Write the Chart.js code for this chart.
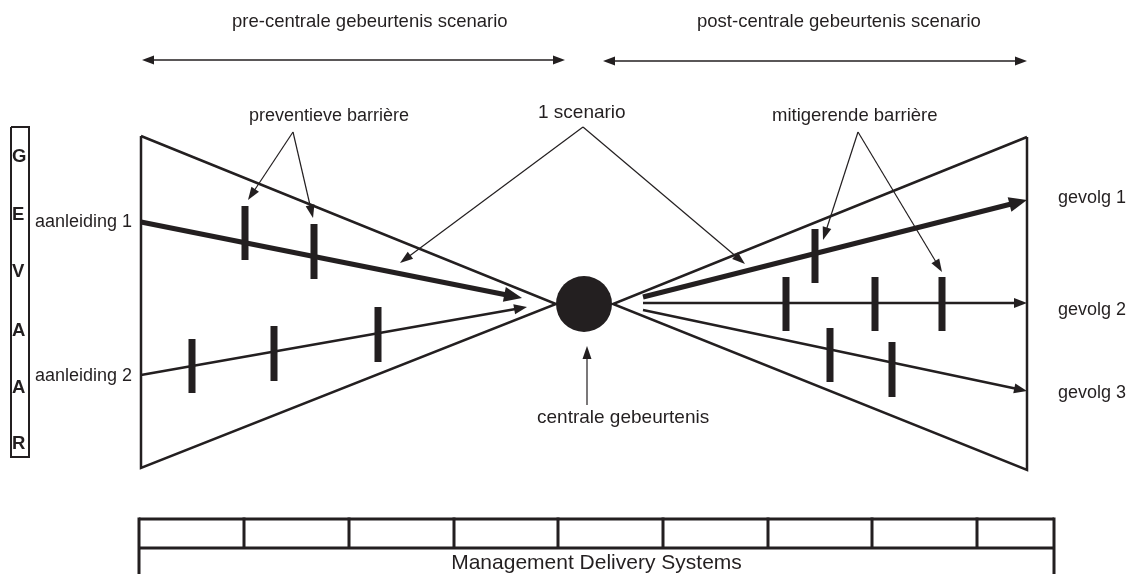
<!DOCTYPE html>
<html>
<head>
<meta charset="utf-8">
<title>Bowtie</title>
<script src="https://cdn.jsdelivr.net/npm/chart.js@4/dist/chart.umd.min.js"></script>
<style>
  html, body { margin: 0; padding: 0; background: #ffffff; }
  #vlak { width: 1130px; height: 574px; }
</style>
</head>
<body>
<div id="vlak"><canvas id="bowtie" width="1130" height="574"></canvas></div>
<script>
/* ===== BOWTIE — gevaar / centrale gebeurtenis / gevolgen ===== */

const INK  = "#231f20";
const FONT = '"Liberation Sans", Arial, Helvetica, sans-serif';

/* ===== DATA (diagram units, y runs downward) ===== */

// the two wedges
const WEDGE_LEFT_X  = [141, 556, 141, 141];
const WEDGE_LEFT_Y  = [136, 304, 468, 136];
const WEDGE_RIGHT_X = [1027, 613, 1027, 1027];
const WEDGE_RIGHT_Y = [137, 304, 470, 137];

// threats (aanleidingen)
const THREAT_LABELS = ["aanleiding 1", "aanleiding 2"];
const THREAT_FROM   = [[141, 222], [141, 375]];
const THREAT_TO     = [[522, 298], [527, 307]];
const THREAT_LABEL_Y = [222, 376];

// preventive barriers
const PREVENT_X      = [245, 314, 192, 274, 378];
const PREVENT_TOP    = [206, 224, 339, 326, 307];
const PREVENT_BOTTOM = [260, 279, 393, 381, 362];

// consequences (gevolgen)
const CONSEQ_LABELS  = ["gevolg 1", "gevolg 2", "gevolg 3"];
const CONSEQ_FROM    = [[643, 297], [643, 303], [643, 310]];
const CONSEQ_TO      = [[1027, 200], [1027, 303], [1027, 391]];
const CONSEQ_LABEL_Y = [198, 310, 393];

// mitigating barriers
const MITIGATE_X      = [815, 786, 875, 942, 830, 892];
const MITIGATE_TOP    = [229, 277, 277, 277, 328, 342];
const MITIGATE_BOTTOM = [283, 331, 331, 331, 382, 397];

// central event
const CENTRAL_LABEL = "centrale gebeurtenis";
const CENTRAL_POINT = [584, 304];
const CENTRAL_ARROW = [[587, 405], [587, 346]];

// callouts with two arrows each
const CALLOUT_LABELS = ["preventieve barrière", "1 scenario", "mitigerende barrière"];
const CALLOUT_APEX   = [[293, 132], [583, 127], [858, 132]];
const CALLOUT_TIPS   = [
  [[248, 200], [313, 218]],
  [[400, 263], [745, 264]],
  [[823, 240], [942, 272]],
];

// scenario spans on top
const SPAN_LABELS = ["pre-centrale gebeurtenis scenario", "post-centrale gebeurtenis scenario"];
const SPAN_FROM   = [[142, 60], [603, 61]];
const SPAN_TO     = [[565, 60], [1027, 61]];

// hazard column
const HAZARD_LETTERS  = ["G", "E", "V", "A", "A", "R"];
const HAZARD_LETTER_Y = [157, 215, 272, 331, 388, 444];
const HAZARD_BOX_X    = [11, 29];
const HAZARD_BOX_Y    = [127, 457];

// management delivery systems table
const MDS_LABEL     = "Management Delivery Systems";
const MDS_COLUMNS_X = [139, 244, 349, 454, 558, 663, 768, 872, 977, 1054];
const MDS_ROWS_Y    = [519, 548, 574];

/* ===== HELPERS ===== */

function punten(xs, ys) {
  return xs.map(function(x, i) { return { x: x, y: ys[i] }; });
}

function lijn(data, breedte, extra) {
  return Object.assign({
    data: data,
    showLine: true,
    borderColor: INK,
    borderWidth: breedte,
    borderCapStyle: "butt",
    borderJoinStyle: "miter",
    pointRadius: 0,
    pointHoverRadius: 0,
    fill: false,
    tension: 0,
    clip: false,
  }, extra || {});
}

function pijl(van, naar, breedte, kop, dubbel) {
  const extra = { arrowEnd: kop };
  if (dubbel) extra.arrowStart = kop;
  return lijn([{ x: van[0], y: van[1] }, { x: naar[0], y: naar[1] }], breedte, extra);
}

/* ===== DATASETS ===== */

function bouwDatasets() {
  const sets = [];

  sets.push(lijn(punten(WEDGE_LEFT_X, WEDGE_LEFT_Y), 2.5));
  sets.push(lijn(punten(WEDGE_RIGHT_X, WEDGE_RIGHT_Y), 2.5));

  // threats: first one is the thick scenario arrow
  THREAT_FROM.forEach(function(van, i) {
    const dik = i === 0;
    sets.push(pijl(van, THREAT_TO[i], dik ? 5 : 2.5, dik ? [18, 7.5] : [13, 5]));
  });
  PREVENT_X.forEach(function(x, i) {
    sets.push(lijn([{ x: x, y: PREVENT_TOP[i] }, { x: x, y: PREVENT_BOTTOM[i] }], 7));
  });

  CONSEQ_FROM.forEach(function(van, i) {
    const dik = i === 0;
    sets.push(pijl(van, CONSEQ_TO[i], dik ? 5 : 2.5, dik ? [18, 7.5] : [13, 5]));
  });
  MITIGATE_X.forEach(function(x, i) {
    sets.push(lijn([{ x: x, y: MITIGATE_TOP[i] }, { x: x, y: MITIGATE_BOTTOM[i] }], 7));
  });

  // callout arrows
  CALLOUT_APEX.forEach(function(top, i) {
    CALLOUT_TIPS[i].forEach(function(punt) {
      sets.push(pijl(top, punt, 1.2, [13, 4.5]));
    });
  });
  sets.push(pijl(CENTRAL_ARROW[0], CENTRAL_ARROW[1], 1.2, [13, 4.5]));

  SPAN_FROM.forEach(function(van, i) {
    sets.push(pijl(van, SPAN_TO[i], 1.4, [12, 4.5], true));
  });

  // hazard box
  sets.push(lijn(punten(
    [HAZARD_BOX_X[0], HAZARD_BOX_X[1], HAZARD_BOX_X[1], HAZARD_BOX_X[0], HAZARD_BOX_X[0]],
    [HAZARD_BOX_Y[0], HAZARD_BOX_Y[0], HAZARD_BOX_Y[1], HAZARD_BOX_Y[1], HAZARD_BOX_Y[0]]), 2));

  // table
  const links  = MDS_COLUMNS_X[0];
  const rechts = MDS_COLUMNS_X[MDS_COLUMNS_X.length - 1];
  sets.push(lijn([{ x: links, y: MDS_ROWS_Y[0] }, { x: rechts, y: MDS_ROWS_Y[0] }], 3));
  sets.push(lijn([{ x: links, y: MDS_ROWS_Y[1] }, { x: rechts, y: MDS_ROWS_Y[1] }], 3));
  MDS_COLUMNS_X.forEach(function(x, i) {
    const buiten = i === 0 || i === MDS_COLUMNS_X.length - 1;
    const onder  = buiten ? MDS_ROWS_Y[2] : MDS_ROWS_Y[1];
    sets.push(lijn([{ x: x, y: MDS_ROWS_Y[0] - 1.5 }, { x: x, y: onder }], 3));
  });

  // central event
  sets.push({
    data: [{ x: CENTRAL_POINT[0], y: CENTRAL_POINT[1] }],
    showLine: false,
    pointStyle: "circle",
    pointRadius: 28,
    pointHoverRadius: 28,
    pointBackgroundColor: INK,
    pointBorderWidth: 0,
    clip: false,
  });

  return sets;
}

/* ===== ARROW HEADS ===== */

function richting(a, b) {
  const dx = b.x - a.x, dy = b.y - a.y;
  const l = Math.sqrt(dx * dx + dy * dy) || 1;
  return { ux: dx / l, uy: dy / l, nx: -dy / l, ny: dx / l };
}

// cut the shaft away where the head goes
function knipKop(ctx, a, tip, kop, breedte) {
  const r = richting(a, tip);
  const terug = kop[0] * 0.6, w = breedte;
  const bx = tip.x - r.ux * terug, by = tip.y - r.uy * terug;
  const ex = tip.x + r.ux * w, ey = tip.y + r.uy * w;
  ctx.moveTo(bx + r.nx * w, by + r.ny * w);
  ctx.lineTo(ex + r.nx * w, ey + r.ny * w);
  ctx.lineTo(ex - r.nx * w, ey - r.ny * w);
  ctx.lineTo(bx - r.nx * w, by - r.ny * w);
  ctx.closePath();
}

function tekenKop(ctx, a, tip, kop) {
  const r = richting(a, tip);
  const bx = tip.x - r.ux * kop[0], by = tip.y - r.uy * kop[0];
  ctx.beginPath();
  ctx.moveTo(tip.x, tip.y);
  ctx.lineTo(bx + r.nx * kop[1], by + r.ny * kop[1]);
  ctx.lineTo(bx - r.nx * kop[1], by - r.ny * kop[1]);
  ctx.closePath();
  ctx.fillStyle = INK;
  ctx.fill();
}

const pijlPlugin = {
  id: "pijlpunten",
  beforeDatasetDraw(chart, args) {
    const ds = chart.data.datasets[args.index];
    if (!ds.arrowEnd) return;
    const p = args.meta.data;
    const ctx = chart.ctx;
    ctx.save();
    ctx.beginPath();
    ctx.rect(0, 0, chart.width, chart.height);
    knipKop(ctx, p[0], p[1], ds.arrowEnd, ds.borderWidth);
    if (ds.arrowStart) knipKop(ctx, p[1], p[0], ds.arrowStart, ds.borderWidth);
    ctx.clip("evenodd");
  },
  afterDatasetDraw(chart, args) {
    const ds = chart.data.datasets[args.index];
    if (!ds.arrowEnd) return;
    const p = args.meta.data;
    const ctx = chart.ctx;
    ctx.restore();
    tekenKop(ctx, p[0], p[1], ds.arrowEnd);
    if (ds.arrowStart) tekenKop(ctx, p[1], p[0], ds.arrowStart);
  },
};

/* ===== TEXT ===== */

const tekstPlugin = {
  id: "teksten",
  afterDatasetsDraw(chart) {
    const ctx = chart.ctx;
    const sx = chart.scales.x, sy = chart.scales.y;

    function zet(tekst, x, y, font, uitlijning) {
      ctx.font = font;
      ctx.textAlign = uitlijning || "left";
      ctx.fillText(tekst, sx.getPixelForValue(x), sy.getPixelForValue(y));
    }

    ctx.save();
    ctx.fillStyle = INK;
    ctx.textBaseline = "middle";

    const gewoon = "18.5px " + FONT;
    zet(SPAN_LABELS[0], 232, 22, gewoon);
    zet(SPAN_LABELS[1], 697, 22, gewoon);

    zet(CALLOUT_LABELS[0], 249, 116, "18px " + FONT);
    zet(CALLOUT_LABELS[1], 538, 113, "19px " + FONT);
    zet(CALLOUT_LABELS[2], 772, 116, gewoon);

    zet(CENTRAL_LABEL, 537, 418, "19px " + FONT);

    THREAT_LABELS.forEach(function(t, i) { zet(t, 35, THREAT_LABEL_Y[i], "18px " + FONT); });
    CONSEQ_LABELS.forEach(function(t, i) { zet(t, 1058, CONSEQ_LABEL_Y[i], "18px " + FONT); });

    HAZARD_LETTERS.forEach(function(t, i) {
      zet(t, 12, HAZARD_LETTER_Y[i], "bold 18.5px " + FONT);
    });

    zet(MDS_LABEL, (MDS_COLUMNS_X[0] + MDS_COLUMNS_X[MDS_COLUMNS_X.length - 1]) / 2,
        (MDS_ROWS_Y[1] + MDS_ROWS_Y[2]) / 2 + 2, "21px " + FONT, "center");

    ctx.restore();
  },
};

/* ===== CHART ===== */

function inicializar() {
  const lienzo = document.getElementById("bowtie");

  new Chart(lienzo, {
    type: "scatter",
    data: { datasets: bouwDatasets() },
    options: {
      responsive: false,
      animation: false,
      devicePixelRatio: 1,
      events: [],
      layout: { autoPadding: false, padding: 0 },
      plugins: {
        legend:  { display: false },
        tooltip: { enabled: false },
      },
      scales: {
        x: { type: "linear", min: 0, max: 1130, display: false },
        y: { type: "linear", min: 0, max: 574, reverse: true, display: false },
      },
    },
    plugins: [pijlPlugin, tekstPlugin],
  });
}

document.addEventListener("DOMContentLoaded", inicializar);
</script>
</body>
</html>
